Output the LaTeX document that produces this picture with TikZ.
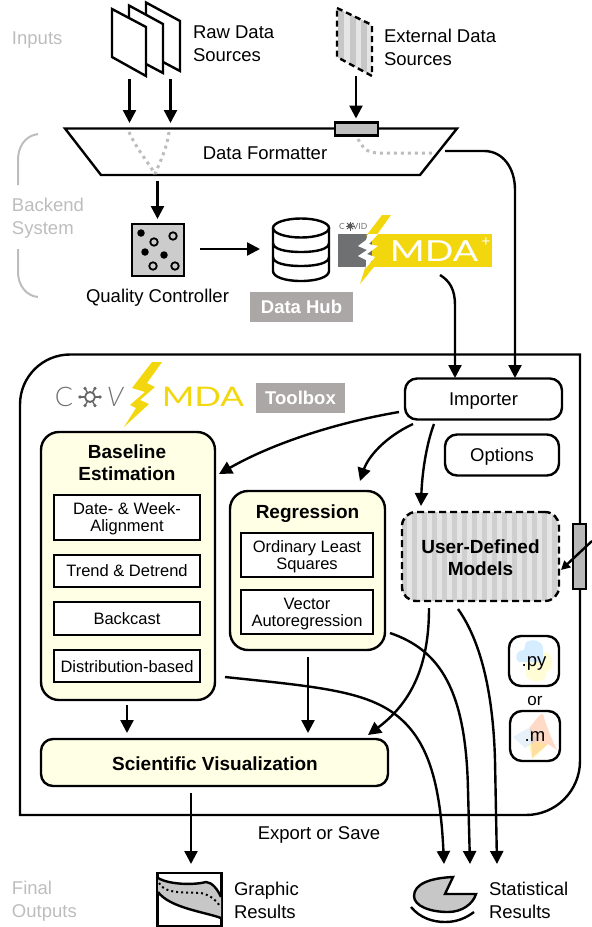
\documentclass[tikz,border=0pt]{standalone}
\usepackage{fontspec}
\setmainfont{Liberation Sans}
\newfontfamily\logofont{Lato Light}
\newfontfamily\logofontb{Lato}
\usetikzlibrary{arrows.meta,calc}
\definecolor{lab}{HTML}{BDBDBD}
\definecolor{tag}{HTML}{ABA7A6}
\definecolor{cream}{HTML}{FFFFE6}
\definecolor{boltc}{HTML}{F2D70F}
\definecolor{logog}{HTML}{6F7072}
\definecolor{qcg}{HTML}{CCCCCC}
\newcommand\fsz[2]{\fontsize{#1}{#2}\selectfont}
\tikzset{
 x=1pt,y=-1pt,
 arr/.style={-{Triangle[length=13pt,width=13pt]},line width=2.4pt},
 arrs/.style={-{Triangle[length=9pt,width=9pt]},line width=2.4pt},
 txt/.style={inner sep=0,outer sep=0,font=\fsz{18.5}{23},align=left,anchor=west,text=black},
 graytxt/.style={txt,text=lab},
 boxr/.style={draw=black,rounded corners=#1,inner sep=0,outer sep=0,align=center},
 inbox/.style={draw=black,fill=white,inner sep=0,outer sep=0,align=center,font=\fsz{16.5}{17}},
 intxt/.style={inner sep=0,align=center,font=\fsz{16.5}{17}},
 ctxt/.style={inner sep=0,align=center,font=\fsz{18.5}{22}},
 btxt/.style={inner sep=0,align=center,font=\fsz{19}{22}\bfseries},
 tagbox/.style={fill=tag,text=white,inner sep=0,outer sep=0,font=\fsz{18.5}{22}\bfseries},
 dots/.style={draw=lab,line width=3pt,dash pattern=on 3pt off 4pt},
 blackdot/.style={fill=black,circle,inner sep=0,minimum size=8pt},
}
\begin{document}
\begin{tikzpicture}[line width=2.4pt]
\useasboundingbox (0,0) rectangle (592,927);
% left labels
\node[graytxt] (lInputs) at (12,40) {Inputs};
\node[graytxt] (lBackend) at (12,218.5) {Backend\\System};
\node[graytxt] (lFinal) at (12,901) {Final\\Outputs};
\draw[lab,line width=2pt] (38,134) .. controls (24,136) and (18,148) .. (18,160) -- (18,185);
\draw[lab,line width=2pt] (18,249) -- (18,272) .. controls (18,285) and (26,296) .. (38,297);
% raw pages
\draw[fill=white,line join=miter] (146,2.5) -- (180,21) -- (180,71) -- (146,53) -- cycle;
\draw[fill=white,line join=miter] (129,5.5) -- (163,24) -- (163,73) -- (129,55) -- cycle;
\draw[fill=white,line join=miter] (112,9) -- (146,27) -- (146,76) -- (112,57) -- cycle;
\node[txt] (tRaw) at (193,43.5) {Raw Data\\Sources};
% external
\begin{scope}
\clip (337,8) -- (372,25) -- (372,76) -- (337,57) -- cycle;
\fill[white] (337,0) rectangle (372,80);
\foreach \i in {0,1,2}{\fill[black!22] ({338+\i*11.5},0) rectangle ({344+\i*11.5},80);
 \fill[black!10] ({344+\i*11.5},0) rectangle ({349.5+\i*11.5},80);}
\end{scope}
\draw[dash pattern=on 6pt off 4pt,line join=miter] (337,8) -- (372,25) -- (372,76) -- (337,57) -- cycle;
\node[txt] (tExt) at (384,47.5) {External Data\\Sources};
% formatter
\draw[fill=white,line join=miter] (65,128.5) -- (457,128.5) -- (420,175) -- (101,175) -- cycle;
\node[ctxt] (fmt) at (265,153) {Data Formatter};
\node[draw=black,fill=black!25,minimum width=43pt,minimum height=13pt,inner sep=0,outer sep=0] (slot) at (356.5,129) {};
\draw[dots] (129,132) .. controls (136,148) and (148,162) .. (155,174);
\draw[dots] (169,132) .. controls (167,148) and (160,162) .. (155,174);
\draw[dots] (358,139) .. controls (364,150) and (368,153) .. (380,153) -- (434,153);
% arrows to formatter
\coordinate (rawA) at (129.5,79);\coordinate (rawAe) at (129.5,123);
\coordinate (rawB) at (170.5,79);\coordinate (rawBe) at (170.5,123);
\coordinate (extS) at (356,75.5);\coordinate (extE) at (356,118.5);
\draw[arr] (rawA) -- (rawAe);
\draw[arr] (rawB) -- (rawBe);
\draw[arr] (extS) -- (extE);
% QC
\node[draw=black,fill=qcg,minimum width=52pt,minimum height=52pt,inner sep=0,outer sep=0] (qc) at (158,250) {};
\foreach \p in {(141,233),(145,252),(164,255)} \node[blackdot,minimum size=7.5pt] at \p {};
\foreach \p in {(154,242),(173,236),(153,266),(175,266)} \node[circle,draw=black,line width=1.8pt,inner sep=0,minimum size=7.5pt] at \p {};
\node[ctxt] (tQC) at (157.5,297.5) {Quality Controller};
\coordinate (fmtOut) at (157.5,181);\coordinate (qcIn) at (157.5,219);
\draw[arr] (fmtOut) -- (qcIn);
% DB
\draw[fill=white] (273,228) -- (273,271) .. controls (273,277) and (285,281) .. (301,281) .. controls (317,281) and (329,277) .. (329,271) -- (329,228);
\draw (301,228) ellipse [x radius=28,y radius=9.5];
\draw (273,243) .. controls (273,249) and (285,252) .. (301,252) .. controls (317,252) and (329,249) .. (329,243);
\draw (273,257) .. controls (273,263) and (285,266) .. (301,266) .. controls (317,266) and (329,263) .. (329,257);
\coordinate (qcOut) at (200,249);\coordinate (dbIn) at (260,249);
\draw[arr] (qcOut) -- (dbIn);
\node[tagbox,minimum width=103pt,minimum height=30pt] (hub) at (301.5,307) {Data Hub};
% MDA+ logo
\fill[logog] (338,234) rectangle (372,267);
\fill[boltc] (372,234) rectangle (492,267);
\fill[boltc] (382,215) -- (391,215) -- (376,236) -- (366,236) -- cycle;
\fill[boltc] (367,262) -- (378,262) -- (360,284) -- cycle;
\fill[white] (368,234) -- (378,234) -- (369,244) -- (378,246) -- (367,254) -- (375,257) -- (366,268) -- (366,260) -- (358,256) -- (367,250) -- (358,246) -- (366,240) -- cycle;
\node[inner sep=0,text=white,font=\logofontb\fsz{29}{29},xscale=1.3,anchor=center] (tMDAp) at (434,251) {MDA};
\node[inner sep=0,text=white,font=\logofontb\fsz{15}{15},anchor=center] (tPlus) at (486,242) {+};
\node[inner sep=0,text=black!55,font=\logofontb\fsz{8.5}{9}] (tC1) at (342,226) {C};
\node[inner sep=0,text=black!55,font=\logofontb\fsz{8.5}{9}] (tVID) at (360,226) {VID};
\foreach \a in {0,45,...,315} \draw[black!65,line width=.8pt] (350,226) -- ++(\a:4.5);
\fill[black!65] (350,226) circle (2.6);
% curve arrows into toolbox
\coordinate (hubOut) at (440,275);\coordinate (hubIn) at (455,378);
\draw[arr] (hubOut) .. controls (450,281) and (455,290) .. (455,305) -- (hubIn);
\coordinate (fmtR) at (445,151);\coordinate (fmtRe) at (515,378);
\draw[arr] (fmtR) -- (484,151) .. controls (503,151) and (515,168) .. (515,190) -- (fmtRe);
% main box
\draw[line join=miter] (20,815) [rounded corners=50pt] -- (20,354.5) [sharp corners] -- (580,354.5) [rounded corners=54pt] -- (580,815) [sharp corners] -- cycle;
% toolbox logo
\node[inner sep=0,text=black!55,font=\logofont\fsz{27}{27},anchor=center] (tC) at (64,397) {C};
\node[inner sep=0,text=black!55,font=\logofont\itshape\fsz{27}{27},anchor=center] (tV) at (115,397) {V};
\foreach \a in {0,60,...,300} {\draw[black!60,line width=1.4pt] (90,397) -- ++(\a:10); \fill[black!60] (90,397) ++(\a:10) circle (1.8);}
\draw[black!60,fill=white,line width=1.8pt] (90,397) circle (5);
\fill[boltc] (152,362) -- (162,362) -- (147,383) -- (155,387) -- (140,400) -- (149,404) -- (124,427) -- (136,408) -- (130,405) -- (145,392) -- (132,388) -- cycle;
\node[inner sep=0,text=boltc,font=\logofontb\fsz{27}{27},xscale=1.3,anchor=center] (tMDA) at (203,397) {MDA};
\node[tagbox,minimum width=89pt,minimum height=30pt] (toolbox) at (300.5,398) {Toolbox};
% importer, options
\node[boxr=12pt,fill=white,minimum width=157pt,minimum height=41pt] (imp) at (483.5,399) {};
\node[ctxt] (impT) at (483.5,401) {Importer};
\node[boxr=12pt,fill=white,minimum width=114pt,minimum height=41pt] (opt) at (502,455) {};
\node[ctxt] (optT) at (502,457) {Options};
% baseline
\node[boxr=18pt,fill=cream,minimum width=174pt,minimum height=268pt] (base) at (128,566) {};
\node[btxt] (tBase) at (127,463) {Baseline\\Estimation};
\node[inbox,minimum width=146pt,minimum height=45pt] (b1) at (127,517.5) {};
\node[intxt] (b1t) at (127,519) {Date- \& Week-\\Alignment};
\node[inbox,minimum width=146pt,minimum height=32pt] (b2) at (127,571) {Trend \& Detrend};
\node[inbox,minimum width=146pt,minimum height=33pt] (b3) at (127,618.5) {};
\node[intxt] (b3t) at (127,619) {Backcast};
\node[inbox,minimum width=146pt,minimum height=32pt] (b4) at (127,666) {};
\node[intxt] (b4t) at (127,667) {Distribution-based};
% regression
\node[boxr=18pt,fill=cream,minimum width=155pt,minimum height=159pt] (reg) at (307.5,570.5) {};
\node[btxt] (tReg) at (307.5,513.5) {Regression};
\node[inbox,minimum width=132pt,minimum height=44pt] (r1) at (307,555) {};
\node[intxt] (r1t) at (307,557) {Ordinary Least\\Squares};
\node[inbox,minimum width=132pt,minimum height=44pt] (r2) at (307,612) {};
\node[intxt] (r2t) at (307,614) {Vector\\Autoregression};
% scientific
\node[boxr=12pt,fill=cream,minimum width=347pt,minimum height=47pt] (sci) at (214.5,762.5) {};
\node[btxt] (sciT) at (215,764) {Scientific Visualization};
% UDM
\begin{scope}
\path[clip,rounded corners=14pt] (402,512) rectangle (559,601);
\foreach \i in {0,...,15}{\fill[black!19] ({402+\i*10},500) rectangle ({407+\i*10},610);\fill[black!10] ({407+\i*10},500) rectangle ({412+\i*10},610);}
\end{scope}
\node[boxr=14pt,dash pattern=on 7pt off 4pt,minimum width=157pt,minimum height=89pt] (udm) at (480.5,556.5) {};
\node[btxt] (udmT) at (480.5,557.5) {User-Defined\\Models};
% side slot
\node[draw=black,fill=black!28,minimum width=13pt,minimum height=65pt,inner sep=0,outer sep=0] (sslot) at (579.5,556.5) {};
\coordinate (sideIn) at (592,541);\coordinate (sideE) at (561,570);
\draw[arrs] (sideIn) -- (sideE);
% file boxes
\node[boxr=12pt,fill=white,minimum width=50pt,minimum height=50pt] (py) at (534,661) {};
\fill[blue!45!cyan,opacity=.16] (526,642) .. controls (534,638) and (542,641) .. (543,648) -- (543,662) -- (522,662) .. controls (515,664) and (513,650) .. (524,650) -- cycle;
\fill[yellow,opacity=.16] (543,652) .. controls (552,650) and (555,664) .. (550,670) -- (546,672) -- (546,678) .. controls (540,683) and (530,682) .. (526,676) -- (526,662) -- (543,662) -- cycle;
\node[ctxt] (tpy) at (534,663) {.py};
\node[inner sep=0,font=\fsz{17}{20}] (tor) at (535,701) {or};
\node[boxr=12pt,fill=white,minimum width=50pt,minimum height=50pt] (mm) at (535,736) {};
\fill[cyan!60!blue,opacity=.1] (513,737) -- (530,727) -- (537,740) -- (525,748) -- cycle;
\fill[orange!70!red,opacity=.22] (530,727) .. controls (536,720) and (540,713) .. (543,714) .. controls (546,725) and (552,740) .. (557,750) -- (548,744) -- (532,758) -- cycle;
\fill[yellow,opacity=.2] (528,745) -- (537,742) -- (548,744) -- (533,759) -- cycle;
\node[ctxt] (tm) at (535,737) {.m};
% internal arrows
\coordinate (iA) at (399,412);\coordinate (iAe) at (219,474);
\coordinate (iB) at (413,424);\coordinate (iBe) at (360,481);
\coordinate (iC) at (434,424);\coordinate (iCe) at (421,506);
\draw[arr] (iA) .. controls (340,422) and (275,442) .. (iAe);
\draw[arr] (iB) .. controls (385,437) and (368,457) .. (iBe);
\draw[arr] (iC) .. controls (426,445) and (422,475) .. (iCe);
\coordinate (bS) at (127,705);\coordinate (bE) at (127,733);
\coordinate (rS) at (308,657);\coordinate (rE) at (308,733);
\draw[arr] (bS) -- (bE);
\draw[arr] (rS) -- (rE);
\coordinate (uA) at (429,608);\coordinate (uAe) at (368,735);
\draw[arr] (uA) .. controls (429,660) and (415,700) .. (uAe);
\coordinate (uB) at (458,609);\coordinate (uBe) at (497,864);
\draw[arr] (uB) .. controls (480,640) and (493,690) .. (495,760) -- (uBe);
\coordinate (rR) at (390,633);\coordinate (rRe) at (470,864);
\draw[arr] (rR) .. controls (440,650) and (466,690) .. (468,790) -- (rRe);
\coordinate (bR) at (225,677);\coordinate (bRe) at (444,864);
\draw[arr] (bR) .. controls (310,686) and (360,690) .. (392,712) .. controls (425,735) and (440,775) .. (bRe);
\coordinate (sciS) at (191,793);\coordinate (sciE) at (191,864);
\draw[arr] (sciS) -- (sciE);
\node[ctxt] (tExp) at (319,834.5) {Export or Save};
% graphic
\node[draw=black,minimum width=64pt,minimum height=53pt,inner sep=0,outer sep=0] (gr) at (189.5,899.5) {};
\fill[black!22] (158,878) .. controls (170,885) and (195,885) .. (206,882) .. controls (212,882) and (218,890) .. (221,897) -- (221,918) .. controls (205,912) and (170,908) .. (158,892) -- cycle;
\draw (158,878) .. controls (170,885) and (195,885) .. (206,882) .. controls (212,882) and (218,890) .. (221,897);
\draw (158,892) .. controls (170,908) and (205,912) .. (221,918);
\draw[line width=2pt,dash pattern=on 2pt off 3pt] (159,883) .. controls (165,895) and (190,892) .. (201,893) .. controls (210,895) and (216,900) .. (220,906);
\node[txt] (tGr) at (234,900) {Graphic\\Results};
% pie
\draw[fill=black!22,line join=miter] (453,877) .. controls (430,878) and (414,884) .. (414,896) .. controls (414,906) and (430,912) .. (448,912) .. controls (462,912) and (473,904) .. (476,894) -- (445,894) -- cycle;
\draw (411,907) .. controls (420,918) and (433,922) .. (445,922) .. controls (457,922) and (466,918) .. (474,912);
\node[txt] (tSt) at (489,900) {Statistical\\Results};
\end{tikzpicture}
\end{document}
